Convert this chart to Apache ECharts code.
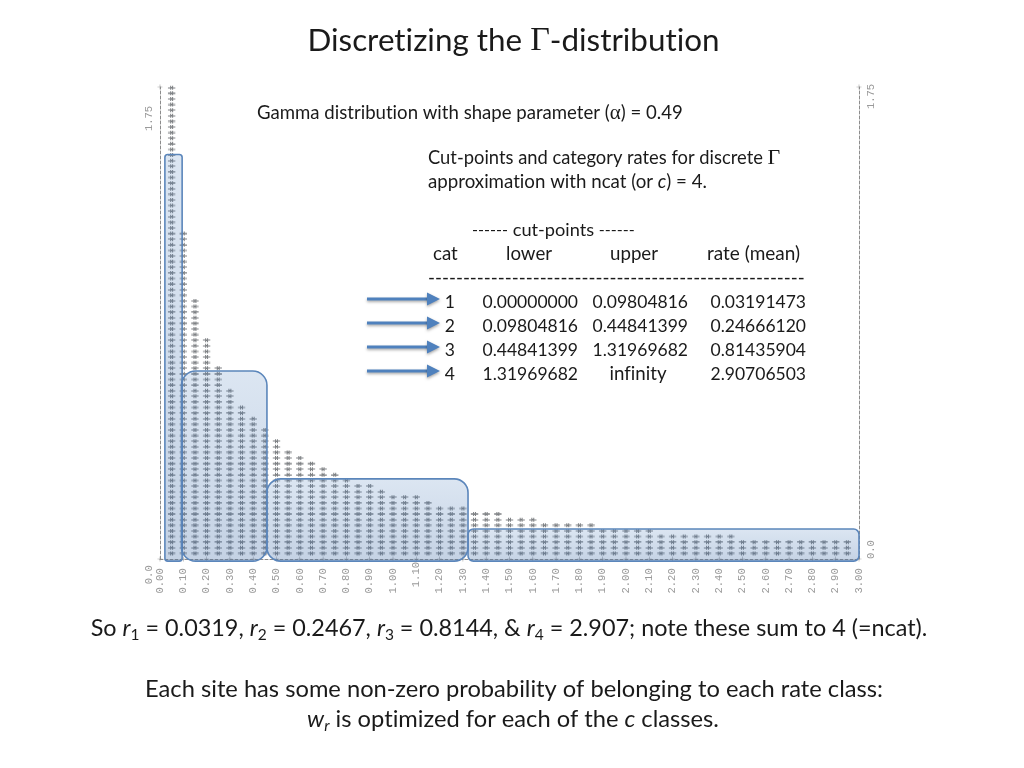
<!DOCTYPE html>
<html><head><meta charset="utf-8">
<style>html,body{margin:0;padding:0;background:#fff}#c{width:1024px;height:768px}</style>
<script src="https://cdn.jsdelivr.net/npm/echarts@6/dist/echarts.min.js"></script>
</head><body><div id="c"></div>
<script>
// column midpoints
const columnX = [0.05,0.10,0.15,0.20,0.25,0.30,0.35,0.40,0.45,0.50,0.55,0.60,0.65,0.70,0.75,0.80,0.85,0.90,0.95,1.00,
  1.05,1.10,1.15,1.20,1.25,1.30,1.35,1.40,1.45,1.50,1.55,1.60,1.65,1.70,1.75,1.80,1.85,1.90,1.95,2.00,
  2.05,2.10,2.15,2.20,2.25,2.30,2.35,2.40,2.45,2.50,2.55,2.60,2.65,2.70,2.75,2.80,2.85,2.90,2.95];
// number of # characters stacked in each column
const columnHashes = [84,58,46,39,34,30,27,25,23,21,19,18,17,16,15,14,13,13,12,11,
  11,11,10,9,9,9,8,8,8,7,7,7,6,6,6,6,6,5,5,5,
  5,5,4,4,4,4,4,4,4,3,3,3,3,3,3,3,3,3,3];
const hashStep = 0.0208;
const xTicks = [0,0.1,0.2,0.3,0.4,0.5,0.6,0.7,0.8,0.9,1.0,1.1,1.2,1.3,1.4,1.5,1.6,1.7,1.8,1.9,2.0,2.1,2.2,2.3,2.4,2.5,2.6,2.7,2.8,2.9,3.0];
const xTickLabels = ['0.00','0.10','0.20','0.30','0.40','0.50','0.60','0.70','0.80','0.90','1.00','1.10','1.20','1.30','1.40','1.50','1.60','1.70','1.80','1.90','2.00','2.10','2.20','2.30','2.40','2.50','2.60','2.70','2.80','2.90','3.00'];
const yMax = 1.75;
// rate-category boxes: lower x, upper x, top y
const boxLower = [0.021,0.092,0.459,1.322];
const boxUpper = [0.095,0.459,1.322,3.0];
const boxTop   = [1.50,0.697,0.297,0.111];
const boxBase  = -0.008;
// table
const tableCat   = ['1','2','3','4'];
const tableLower = ['0.00000000','0.09804816','0.44841399','1.31969682'];
const tableUpper = ['0.09804816','0.44841399','1.31969682','infinity'];
const tableRate  = ['0.03191473','0.24666120','0.81435904','2.90706503'];

// no "ti"/"fi" ligatures in canvas text
const rawGetContext = HTMLCanvasElement.prototype.getContext;
HTMLCanvasElement.prototype.getContext = function(){
  const ctx = rawGetContext.apply(this,arguments);
  if(ctx && 'textRendering' in ctx) ctx.textRendering='optimizeSpeed';
  return ctx;
};

const hashPath = 'path://M3 0H4.4V3H5.6V0H7V3H10V4.4H7V5.6H10V7H7V10H5.6V7H4.4V10H3V7H0V5.6H3V4.4H0V3H3Z';
const plusPath = 'path://M4.4 0H5.6V4.4H10V5.6H5.6V10H4.4V5.6H0V4.4H4.4Z';

const hashes = [];
columnX.forEach((x,i)=>{ for(let k=1;k<=columnHashes[i];k++) hashes.push([x,k*hashStep]); });
const plusMarks = xTicks.map(x=>[x,0]).concat([[0,yMax],[3,yMax]]);
const boxes = boxLower.map((l,i)=>[l,boxUpper[i],boxTop[i]]);

const F = 'Lato';
const ink = '#1a1a1a';
function txt(x,y,text,size,extra){
  return {type:'text',x,y:y+1,z:100,style:Object.assign({text,fontFamily:F,fontSize:size,fill:ink,verticalAlign:'middle'},extra||{})};
}
const fs = 18.7, numFs = 17.5;
const graphics = [];
graphics.push({type:'text',x:513.5,y:41,z:100,style:{
  text:'{a|Discretizing the }{g|Γ}{a|-distribution}',align:'center',verticalAlign:'middle',
  rich:{a:{fontFamily:F,fontSize:31.4,fill:ink},g:{fontFamily:'Liberation Serif',fontSize:34,fill:ink}}}});
graphics.push({type:'text',x:257,y:113,z:100,style:{
  text:'{a|Gamma distribution with shape parameter (}{g|α}{a|) = 0.49}',verticalAlign:'middle',
  rich:{a:{fontFamily:F,fontSize:18.6,fill:ink},g:{fontFamily:'Liberation Serif',fontSize:21,fill:ink}}}});
graphics.push({type:'text',x:428,y:158,z:100,style:{
  text:'{a|Cut-points and category rates for discrete }{g|Γ}',verticalAlign:'middle',
  rich:{a:{fontFamily:F,fontSize:18.35,fill:ink},g:{fontFamily:'Liberation Serif',fontSize:22,fill:ink}}}});
graphics.push({type:'text',x:428,y:182,z:100,style:{
  text:'{a|approximation with ncat (or }{i|c}{a|) = 4.}',verticalAlign:'middle',
  rich:{a:{fontFamily:F,fontSize:fs,fill:ink},i:{fontFamily:F,fontStyle:'italic',fontSize:fs,fill:ink}}}});
graphics.push({type:'text',x:472,y:230,z:100,style:{
  text:'{d|------}{a| cut-points }{d|------}',verticalAlign:'middle',
  rich:{a:{fontFamily:F,fontSize:18.2,fill:ink},d:{fontFamily:F,fontSize:16.2,fill:ink}}}});
graphics.push(txt(433,253,'cat',fs));
graphics.push(txt(506,253,'lower',fs));
graphics.push(txt(610,253,'upper',fs));
graphics.push(txt(707,253,'rate (mean)',19));
graphics.push(txt(428,277,'-'.repeat(54),18.8));
const rowY = [301,325,349,373];
const arrowY = [299,323,347,371];
tableCat.forEach((c,i)=>{
  graphics.push(txt(455,rowY[i],c,numFs,{align:'right'}));
  graphics.push(txt(578,rowY[i],tableLower[i],numFs,{align:'right'}));
  if(tableUpper[i]==='infinity') graphics.push(txt(638,rowY[i],tableUpper[i],fs,{align:'center'}));
  else graphics.push(txt(688,rowY[i],tableUpper[i],numFs,{align:'right'}));
  graphics.push(txt(806,rowY[i],tableRate[i],numFs,{align:'right'}));
  graphics.push({type:'line',z:90,shape:{x1:367,y1:arrowY[i],x2:430,y2:arrowY[i]},
    style:{stroke:'#4f81bd',lineWidth:3.2,shadowBlur:3,shadowColor:'rgba(0,0,0,0.35)',shadowOffsetY:1.5}});
  graphics.push({type:'polygon',z:90,shape:{points:[[427,arrowY[i]-6.5],[440,arrowY[i]],[427,arrowY[i]+6.5]]},
    style:{fill:'#4f81bd',shadowBlur:3,shadowColor:'rgba(0,0,0,0.35)',shadowOffsetY:1.5}});
});
function richAt(bs){ return {a:{fontFamily:F,fontSize:bs,fill:ink,lineHeight:30,verticalAlign:'middle'},
  r:{fontFamily:F,fontStyle:'italic',fontSize:bs,fill:ink,lineHeight:30,verticalAlign:'middle'},
  s:{fontFamily:F,fontSize:15.5,fill:ink,lineHeight:30,verticalAlign:'bottom'},
  t:{fontFamily:F,fontStyle:'italic',fontSize:15.5,fill:ink,lineHeight:30,verticalAlign:'bottom'}}; }
graphics.push({type:'text',x:509,y:628,z:100,style:{
  text:'{a|So }{r|r}{s|1}{a| = 0.0319, }{r|r}{s|2}{a| = 0.2467, }{r|r}{s|3}{a| = 0.8144, & }{r|r}{s|4}{a| = 2.907; note these sum to 4 (=ncat).}',
  align:'center',verticalAlign:'middle',rich:richAt(23.4)}});
graphics.push({type:'text',x:514,y:689,z:100,style:{
  text:'{a|Each site has some non-zero probability of belonging to each rate class:}',
  align:'center',verticalAlign:'middle',rich:richAt(23.7)}});
graphics.push({type:'text',x:513,y:719,z:100,style:{
  text:'{r|w}{t|r}{a| is optimized for each of the }{r|c}{a| classes.}',
  align:'center',verticalAlign:'middle',rich:richAt(23.7)}});

const axisGrey = '#8c8c8c', labelGrey = '#9a9a9a';
const mono = 'Liberation Mono';
const dash = {show:true,onZero:false,lineStyle:{color:axisGrey,type:[3,2],width:1}};
const chart = echarts.init(document.getElementById('c'),null,{renderer:'canvas'});
chart.setOption({
  animation:false,
  backgroundColor:'#fff',
  grid:{left:160,right:165,top:87,bottom:209},
  xAxis:{type:'value',min:0,max:3,interval:0.1,axisLine:dash,axisTick:{show:false},splitLine:{show:false},
    axisLabel:{rotate:90,align:'right',verticalAlign:'middle',margin:3,fontFamily:mono,fontSize:10.5,color:labelGrey,
      hideOverlap:false,showMinLabel:true,showMaxLabel:true,
      formatter:v=>{const s=xTickLabels[xTicks.findIndex(t=>Math.abs(t-v)<1e-6)];return s==='1.10'?s:s+'\u00a0';}}},
  yAxis:[
    {type:'value',position:'left',min:0,max:yMax,interval:yMax,axisLine:dash,axisTick:{show:false},splitLine:{show:false},
      axisLabel:{rotate:90,align:'right',verticalAlign:'middle',margin:11,fontFamily:mono,fontSize:10.5,color:labelGrey,
        formatter:v=>v===0?'0.0\u00a0':'1.75\u00a0\u00a0\u00a0'}},
    {type:'value',position:'right',min:0,max:yMax,interval:yMax,axisLine:dash,axisTick:{show:false},splitLine:{show:false},
      axisLabel:{rotate:90,align:'center',verticalAlign:'middle',margin:12,fontFamily:mono,fontSize:10.5,color:labelGrey,
        formatter:v=>v===0?'\u00a0\u00a0\u00a00.0':'1.75\u00a0\u00a0\u00a0'}}
  ],
  series:[
    {type:'scatter',silent:true,clip:false,symbol:plusPath,symbolSize:5,itemStyle:{color:axisGrey},data:plusMarks,z:2},
    {type:'scatter',silent:true,clip:false,symbol:hashPath,symbolSize:[7.4,4],itemStyle:{color:'#5f6367'},data:hashes,z:3},
    {type:'custom',silent:true,clip:false,z:5,data:boxes,
      renderItem:(p,api)=>{
        const a=api.coord([api.value(0),api.value(2)]), b=api.coord([api.value(1),boxBase]);
        const w=b[0]-a[0],h=b[1]-a[1];
        return {type:'rect',shape:{x:a[0],y:a[1],width:w,height:h,r:Math.min(w,h)*0.167},
          style:{fill:{type:'linear',x:0,y:0,x2:0,y2:1,colorStops:[{offset:0,color:'rgba(79,129,189,0.20)'},{offset:1,color:'rgba(60,105,165,0.30)'}]},
          stroke:'#5b86bb',lineWidth:1.6}};
      }}
  ],
  graphic:graphics
});
</script></body></html>
